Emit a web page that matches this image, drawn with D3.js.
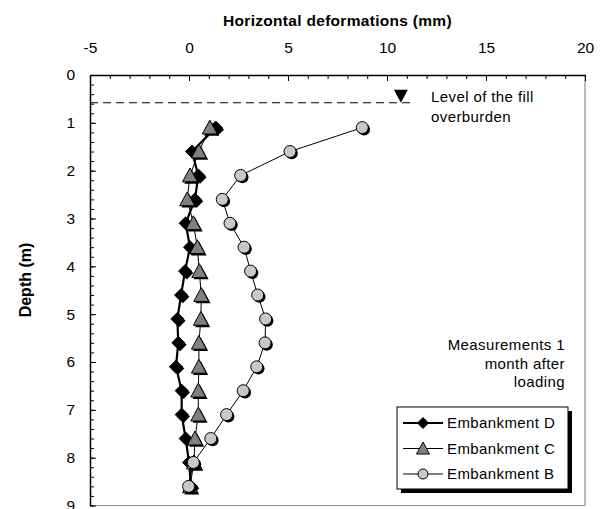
<!DOCTYPE html>
<html>
<head>
<meta charset="utf-8">
<script src="https://cdn.jsdelivr.net/npm/d3@7/dist/d3.min.js"></script>
<style>
  body { margin: 0; background: #fff; }
  text { font-family: "Liberation Sans", Arial, sans-serif; }
</style>
</head>
<body>
<div class="chart"></div>
<script>
// depth of each inclinometer reading (m)
var depths = [1.1, 1.6, 2.1, 2.6, 3.1, 3.6, 4.1, 4.6, 5.1, 5.6, 6.1, 6.6, 7.1, 7.6, 8.1, 8.6];

// horizontal deformations (mm)
var embD = [1.35, 0.15, 0.47, 0.3, -0.17, 0.05, -0.2, -0.4, -0.59, -0.54, -0.66, -0.37, -0.37, -0.17, 0.0, 0.1];
var embC = [1.05, 0.5, 0.05, -0.09, 0.22, 0.42, 0.52, 0.62, 0.6, 0.5, 0.5, 0.47, 0.47, 0.3, 0.25, 0.05];
var embB = [8.75, 5.1, 2.61, 1.68, 2.07, 2.78, 3.11, 3.47, 3.87, 3.84, 3.42, 2.74, 1.9, 1.1, 0.22, -0.02];

var seriesNames = ['Embankment D', 'Embankment C', 'Embankment B'];

var xTicks = [-5, 0, 5, 10, 15, 20];
var yTicks = [0, 1, 2, 3, 4, 5, 6, 7, 8, 9];

// fill overburden level marker
var fillLevel = { x: 10.7, depth: 0.58, lineEnd: 11.4 };

var opts = {
  width: 603,
  height: 509,
  left: 90,
  right: 585,
  top: 75,
  bottom: 505.5
}

var svg = d3.select('.chart').append('svg')
            .attr('width', opts.width)
            .attr('height', opts.height);

var x = d3.scaleLinear().domain([-5, 20]).range([opts.left, opts.right]);
var y = d3.scaleLinear().domain([0, 9]).range([opts.top, opts.bottom]);

//plot area border (right and bottom are grey in the original)
svg.append('line')
   .attr('x1', opts.right).attr('x2', opts.right)
   .attr('y1', opts.top).attr('y2', opts.bottom)
   .attr('stroke', '#8c8c8c').attr('stroke-width', 1.2);
svg.append('line')
   .attr('x1', opts.left).attr('x2', opts.right)
   .attr('y1', opts.bottom).attr('y2', opts.bottom)
   .attr('stroke', '#8c8c8c').attr('stroke-width', 1.2);

//minor ticks
svg.append('g')
   .attr('transform', 'translate(0,' + opts.top + ')')
   .call(d3.axisTop(x).tickValues(d3.range(-5, 21, 1)).tickSizeInner(-4).tickSizeOuter(0).tickFormat(''))
   .call(function(g){ g.select('.domain').remove(); });
svg.append('g')
   .attr('transform', 'translate(' + opts.left + ',0)')
   .call(d3.axisLeft(y).tickValues(d3.range(0, 46, 1).map(function(d){ return d / 5; })).tickSizeInner(-4).tickSizeOuter(0).tickFormat(''))
   .call(function(g){ g.select('.domain').remove(); });

//major axes (plain hyphen for negatives, like the original)
var plain = function(d){ return String(d); };
svg.append('g')
   .attr('transform', 'translate(0,' + opts.top + ')')
   .call(d3.axisTop(x).tickValues(xTicks).tickFormat(plain).tickSizeInner(-6).tickSizeOuter(0).tickPadding(22));
svg.append('g')
   .attr('transform', 'translate(' + opts.left + ',0)')
   .call(d3.axisLeft(y).tickValues(yTicks).tickFormat(plain).tickSizeInner(-6).tickSizeOuter(0).tickPadding(15));

svg.selectAll('.tick line').attr('stroke', '#000');
svg.selectAll('.domain').attr('stroke', '#000').attr('stroke-width', 1.5);
svg.selectAll('.tick text')
   .attr('fill', '#000')
   .style('font-size', '15.5px')
   .style('font-family', '"Liberation Sans", Arial, sans-serif');

//axis titles
svg.append('text')
   .attr('x', (opts.left + opts.right) / 2)
   .attr('y', 26)
   .attr('text-anchor', 'middle')
   .style('font-size', '15.5px')
   .style('letter-spacing', '0.3px')
   .style('font-weight', 'bold')
   .text('Horizontal deformations (mm)');

svg.append('text')
   .attr('transform', 'translate(31,280) rotate(-90)')
   .attr('text-anchor', 'middle')
   .style('font-size', '16px')
   .style('font-weight', 'bold')
   .text('Depth (m)');

//fill level
svg.append('line')
   .attr('x1', opts.left).attr('x2', x(fillLevel.lineEnd))
   .attr('y1', y(fillLevel.depth)).attr('y2', y(fillLevel.depth))
   .attr('stroke', '#000').attr('stroke-width', 1.2)
   .attr('stroke-dasharray', '8,5');
svg.append('path')
   .attr('d', 'M' + (x(fillLevel.x) - 7) + ',' + (y(fillLevel.depth) - 13) +
              'L' + (x(fillLevel.x) + 7) + ',' + (y(fillLevel.depth) - 13) +
              'L' + x(fillLevel.x) + ',' + y(fillLevel.depth) + 'Z')
   .attr('fill', '#000');

var bodyText = function(sel){
  return sel.style('font-size', '15px').style('letter-spacing', '0.4px');
}

bodyText(svg.append('text').attr('x', 431).attr('y', 102)).text('Level of the fill');
bodyText(svg.append('text').attr('x', 431).attr('y', 122)).text('overburden');

var noteLines = ['Measurements 1', 'month after', 'loading'];
svg.selectAll('.note')
   .data(noteLines)
   .enter()
   .append('text')
     .attr('class', 'note')
     .attr('x', 565)
     .attr('y', function(d, i){ return 350 + i * 18.5; })
     .attr('text-anchor', 'end')
     .call(bodyText)
     .text(function(d){ return d; });

//marker shapes
var diamond = function(cx, cy, r){
  return 'M' + cx + ',' + (cy - r) + 'L' + (cx + r) + ',' + cy + 'L' + cx + ',' + (cy + r) + 'L' + (cx - r) + ',' + cy + 'Z';
}
var triangle = function(cx, cy, r){
  return 'M' + cx + ',' + (cy - r) + 'L' + (cx + r) + ',' + (cy + r * 0.85) + 'L' + (cx - r) + ',' + (cy + r * 0.85) + 'Z';
}

var series = [
  { name: seriesNames[0], values: embD, width: 2.2, shape: 'diamond', fill: '#000', size: 6.5 },
  { name: seriesNames[1], values: embC, width: 1, shape: 'triangle', fill: '#808080', size: 7.5 },
  { name: seriesNames[2], values: embB, width: 1, shape: 'circle', fill: '#c8c8c8', size: 6 }
];

var line = d3.line()
             .x(function(d){ return x(d.x); })
             .y(function(d){ return y(d.depth); });

var drawMarker = function(g, shape, cx, cy, r, fill, shadow){
  if(shadow){
    cx += 1.8; cy += 1.8;
  }
  var el;
  if(shape === 'circle'){
    el = g.append('circle').attr('cx', cx).attr('cy', cy).attr('r', r);
  } else if(shape === 'diamond'){
    el = g.append('path').attr('d', diamond(cx, cy, r));
  } else {
    el = g.append('path').attr('d', triangle(cx, cy, r));
  }
  if(shadow){
    el.attr('fill', '#000');
  } else {
    el.attr('fill', fill).attr('stroke', '#000').attr('stroke-width', 1);
  }
}

series.forEach(function(s){
  var points = s.values.map(function(v, i){ return { x: v, depth: depths[i] }; });
  var g = svg.append('g').attr('class', 'series');

  g.append('path')
   .datum(points)
   .attr('d', line)
   .attr('fill', 'none')
   .attr('stroke', '#000')
   .attr('stroke-width', s.width);

  points.forEach(function(p){
    drawMarker(g, s.shape, x(p.x), y(p.depth), s.size, s.fill, true);
    drawMarker(g, s.shape, x(p.x), y(p.depth), s.size, s.fill, false);
  });
});

//legend
var legend = svg.append('g').attr('class', 'legend');
legend.append('rect')
      .attr('x', 401).attr('y', 411).attr('width', 171).attr('height', 82)
      .attr('fill', '#000');
legend.append('rect')
      .attr('x', 397).attr('y', 407).attr('width', 171).attr('height', 82)
      .attr('fill', '#fff').attr('stroke', '#000').attr('stroke-width', 1);

series.forEach(function(s, i){
  var ly = 423 + i * 25.5;
  legend.append('line')
        .attr('x1', 403).attr('x2', 443)
        .attr('y1', ly).attr('y2', ly)
        .attr('stroke', '#000').attr('stroke-width', s.width);
  drawMarker(legend, s.shape, 423, ly, s.size - 1, s.fill, false);
  bodyText(legend.append('text')
        .attr('x', 447).attr('y', ly + 5))
        .text(s.name);
});
</script>
</body>
</html>
